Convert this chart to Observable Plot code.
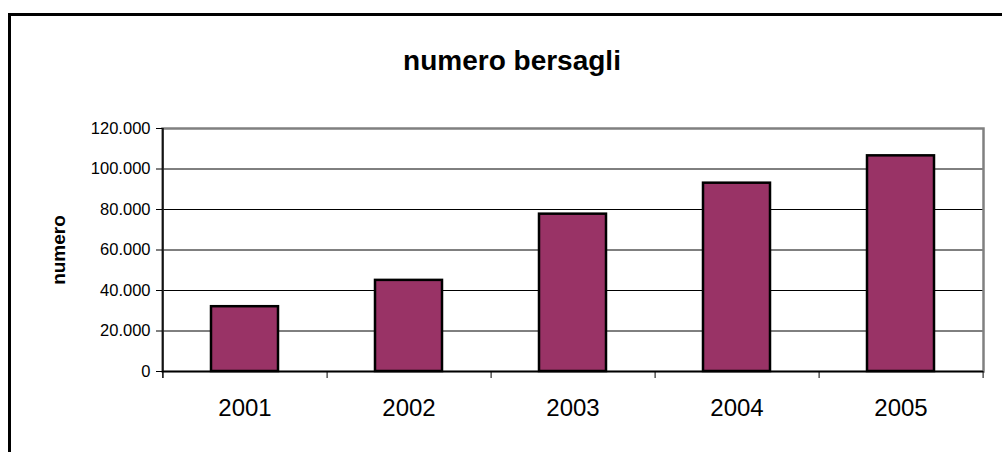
<!DOCTYPE html>
<html>
<head>
<meta charset="utf-8">
<script src="https://cdn.jsdelivr.net/npm/d3@7"></script>
<script src="https://cdn.jsdelivr.net/npm/@observablehq/plot@0.6"></script>
<style>
  html, body { margin: 0; padding: 0; background: #fff; overflow: hidden; }
  #wrap { position: relative; width: 1002px; height: 452px; overflow: hidden; font-family: "Liberation Sans", Arial, sans-serif; }
  #border { position: absolute; left: 8px; top: 13px; width: 1100px; height: 600px; border: 3px solid #000; box-sizing: border-box; }
  #title { position: absolute; left: 0; top: 46px; width: 1024px; text-align: center; font-weight: bold; font-size: 28px; line-height: 30px; color: #000; }
  #chart { position: absolute; left: 0; top: 0; }
  #chart svg { overflow: visible; }
</style>
</head>
<body>
<div id="wrap">
  <div id="border"></div>
  <div id="chart"></div>
  <div id="title">numero bersagli</div>
</div>
<script>
// Data
const years = ["2001", "2002", "2003", "2004", "2005"];
const targets = [32000, 45000, 77700, 93000, 106500];
const yTicks = [0, 20000, 40000, 60000, 80000, 100000, 120000];
const yLabel = "numero";
const titleText = "numero bersagli";

const data = years.map((y, i) => ({year: y, value: targets[i]}));

const itFormat = d3.formatLocale({decimal: ",", thousands: ".", grouping: [3], currency: ["€", ""]}).format(",");

const W = 1002, H = 452;
const mL = 162, mR = 19, mT = 128, mB = 81;
const step = (W - mL - mR) / years.length;

const plot = Plot.plot({
  width: W,
  height: H,
  marginLeft: mL,
  marginRight: mR,
  marginTop: mT,
  marginBottom: mB,
  style: {background: "transparent", fontFamily: "Liberation Sans, Arial, sans-serif", color: "#000"},
  x: {type: "band", domain: years, paddingInner: 0.592, paddingOuter: 0.296},
  y: {domain: [0, 120000]},
  marks: [
    Plot.gridY(yTicks, {stroke: "#000", strokeOpacity: 1, strokeWidth: 1}),
    Plot.frame({stroke: "#808080", strokeWidth: 2.5}),
    Plot.ruleY([0], {stroke: "#000", strokeWidth: 1.5}),
    // left axis line
    Plot.ruleX(years.slice(0, 1), {x: d => d, dx: -step / 2, y1: 120000, y2: 0, insetBottom: -7, stroke: "#000", strokeWidth: 1.5}),
    // category boundary ticks
    Plot.ruleX(years, {x: d => d, dx: step / 2, y1: 0, y2: 0, insetBottom: -7, stroke: "#000", strokeWidth: 1}),
    Plot.barY(data, {x: "year", y: "value", fill: "#993366", stroke: "#000", strokeWidth: 2.5}),
    Plot.axisY({ticks: yTicks, tickFormat: itFormat, tickSize: 6, tickPadding: 6, fontSize: 16.5, label: null, stroke: "#000"}),
    Plot.axisX({tickSize: 0, tickPadding: 27, fontSize: 24, label: null}),
    Plot.text([yLabel], {frameAnchor: "left", textAnchor: "middle", rotate: -90, dx: -104, fontWeight: "bold", fontSize: 19, fill: "#000"})
  ]
});
document.getElementById("chart").appendChild(plot);
document.getElementById("title").textContent = titleText;
</script>
</body>
</html>
